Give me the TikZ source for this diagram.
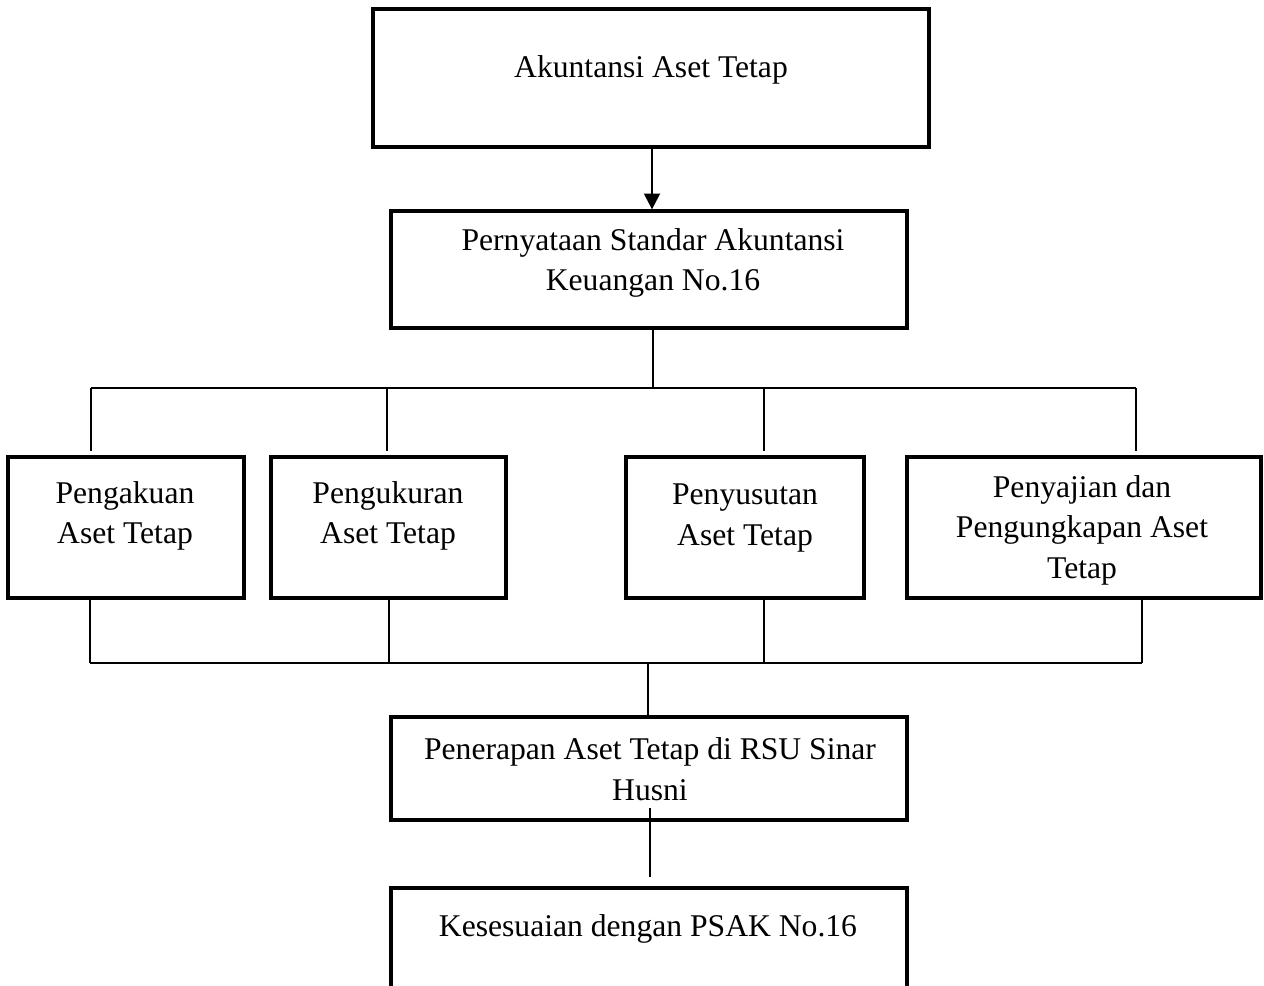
\documentclass[tikz,border=0pt]{standalone}
\usepackage{fontspec}
\setmainfont{Liberation Serif}
\usetikzlibrary{positioning,arrows.meta}

\begin{document}
\begin{tikzpicture}[%
        x=0.02cm, y=-0.02cm,
        box/.style={%
          rectangle,
          draw,
          line width=1.9pt,
          inner sep=0pt
        },
        lbl/.style={%
          align=center,
          inner sep=0pt,
          font=\fontsize{18}{23}\selectfont
        },
        wire/.style={line width=0.8pt}
      ]
      \useasboundingbox (0,0) rectangle (1264,985);

      % boxes
      \node[box, minimum width=11.12cm, minimum height=2.76cm] (akt) at (651,78) {};
      \node[box, minimum width=10.32cm, minimum height=2.34cm] (psak) at (649,269.5) {};
      \node[box, minimum width=4.72cm, minimum height=2.82cm] (akui) at (126,527.5) {};
      \node[box, minimum width=4.70cm, minimum height=2.82cm] (ukur) at (388.5,527.5) {};
      \node[box, minimum width=4.76cm, minimum height=2.82cm] (susut) at (745,527.5) {};
      \node[box, minimum width=7.08cm, minimum height=2.82cm] (saji) at (1084,527.5) {};
      \node[box, minimum width=10.32cm, minimum height=2.06cm] (terap) at (649,768.5) {};
      \node[box, minimum width=10.32cm, minimum height=2.76cm] (sesuai) at (649,957) {};

      % texts
      \node[lbl] (akt-t) at (651,70) {Akuntansi Aset Tetap};
      \node[lbl] (psak-t) at (653,263) {Pernyataan Standar Akuntansi\\Keuangan No.16};
      \node[lbl] (akui-t) at (125,516) {Pengakuan\\Aset Tetap};
      \node[lbl] (ukur-t) at (388,516) {Pengukuran\\Aset Tetap};
      \node[lbl] (susut-t) at (745,518) {Penyusutan\\Aset Tetap};
      \node[lbl] (saji-t) at (1082,530) {Penyajian dan\\Pengungkapan Aset\\Tetap};
      \node[lbl] (terap-t) at (650,769) {Penerapan Aset Tetap di RSU Sinar\\Husni};
      \node[lbl] (sesuai-t) at (648,929) {Kesesuaian dengan PSAK No.16};

      % bus points
      \coordinate (tl) at (91,388);
      \coordinate (tr) at (1136,388);
      \coordinate (bl) at (90,663);
      \coordinate (br) at (1142,663);

      \draw[line width=1.4pt, -{Triangle[length=9pt,width=9pt]}] (akt.south -| 652,0) -- (psak.north -| 652,0);
      \draw[wire] (psak.south -| 653,0) -- (653,388);
      \draw[wire] (tl) -- (tr);
      \foreach \x in {91,387,764,1136}
        \draw[wire] (\x,388) -- (\x,451);
      \foreach \x in {90,389,764,1142}
        \draw[wire] (\x,598) -- (\x,663);
      \draw[wire] (bl) -- (br);
      \draw[wire] (648,663) -- (terap.north -| 648,0);
      \draw[wire] (650,808) -- (650,877);
  \end{tikzpicture}
\end{document}
